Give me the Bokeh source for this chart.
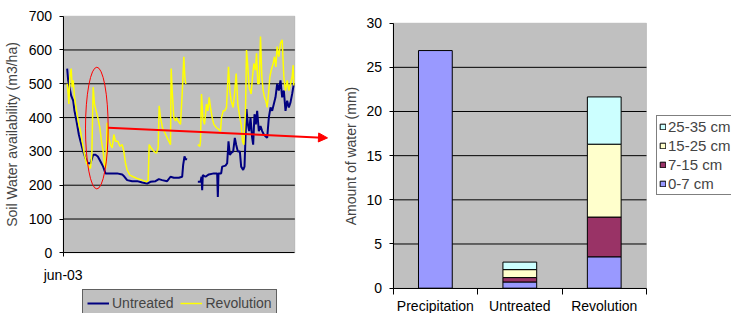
import numpy as np
from bokeh.plotting import figure
from bokeh.models import (Range1d, SingleIntervalTicker, FixedTicker, Legend, LegendItem,
                          Arrow, NormalHead, ColumnDataSource, BoxAnnotation)
from bokeh.layouts import row
from bokeh.embed import file_html
from bokeh.resources import INLINE

nan = np.nan

# ---------------- data: left chart (soil water availability, m3/ha) ----------------
untreated_day = [2.4, 3.0, 3.8, 4.8, 6.0, 6.8, 8.0, 9.4, 10.4, 12.0, 13.4, 14.8, 16.4, 18.0, 19.4,
                 20.8, 22.4, 24.0, 25.4, 28.4, 32.4, 35.4, 36.8, 38.4, 41.4, 44.4, 47.4, 50.4, 52.4,
                 55.4, 57.4, 59.4, 62.4, 64.4, 66.4, 69.4, 71.4, 72.0, 72.8, 73.6, 74.0,
                 77.0,
                 80.8, 82.4, 83.0, 83.4, 83.8, 85.4, 87.4, 90.4, 92.4, 92.8, 93.2, 94.8, 95.4, 97.4,
                 98.4, 99.2, 100.0, 100.8, 102.0, 103.0, 103.8, 104.8, 106.0, 106.8, 108.0, 108.8,
                 109.4, 110.0, 110.8, 111.6, 112.4, 113.4, 114.0, 114.8, 115.6, 116.4, 117.4, 118.4,
                 119.4, 120.4, 121.4, 122.4, 123.4, 124.4, 125.4, 126.4, 127.4, 128.4, 129.4, 130.4,
                 131.4, 132.4, 133.4, 134.4, 135.4, 136.4, 137.4, 138.4]
untreated_val = [545, 510, 490, 465, 450, 420, 390, 350, 330, 300, 280, 265, 265, 290, 290,
                 285, 270, 255, 235, 235, 235, 232, 225, 215, 212, 212, 208, 205, 210,
                 212, 218, 215, 212, 225, 222, 222, 225, 260, 285, 275, 280,
                 nan,
                 210, 210, 225, 185, 230, 225, 232, 235, 235, 165, 235, 235, 255, 258,
                 265, 330, 290, 295, 300, 340, 320, 300, 300, 255, 245, 255,
                 340, 425, 380, 360, 400, 340, 320, 410, 380, 420, 360, 375,
                 360, 350, 345, 340, 400, 430, 420, 440, 460, 500, 480, 510,
                 460, 480, 420, 450, 430, 445, 470, 500]

revolution_day = [2.4, 3.0, 3.4, 4.0, 4.8, 5.4, 6.0, 6.8, 8.0, 9.4, 10.4, 11.4, 12.8, 14.0, 15.4,
                  16.4, 17.2, 18.0, 18.8, 19.8, 20.8, 22.0, 23.0, 24.0, 24.8, 25.6, 26.4, 27.4,
                  28.4, 29.4, 30.4, 31.4, 32.8, 34.0, 35.4, 36.4, 37.4, 38.4, 40.0, 42.0, 44.4,
                  47.4, 50.0, 51.0, 51.6, 52.8, 54.4, 56.0, 57.0, 57.6, 58.4, 59.6, 61.0, 62.4,
                  63.4, 64.4, 64.8, 65.4, 66.4, 67.4, 68.0, 69.0, 70.4, 71.4, 72.4, 73.0, 73.6,
                  77.0,
                  80.8, 82.0, 82.4, 83.0, 83.8, 84.8, 86.0, 86.8, 87.6, 88.4, 89.4, 90.4, 92.0,
                  93.4, 94.4, 95.0, 96.0, 97.0, 98.0, 99.2, 100.0, 100.8, 102.0, 103.0, 103.8,
                  104.8, 106.0, 106.8, 107.6, 108.4, 109.4, 110.0, 110.8, 111.6, 112.8, 113.6,
                  114.4, 115.4, 116.0, 116.8, 117.6, 118.4, 119.2, 120.0, 120.8, 121.6, 122.4,
                  123.2, 124.0, 124.8, 126.0, 126.8, 127.6, 128.4, 129.4, 130.4, 131.4, 132.4,
                  133.4, 134.4, 135.4, 136.4, 137.4, 138.0, 138.4]
revolution_val = [500, 470, 440, 520, 545, 490, 510, 460, 420, 380, 360, 330, 290, 265, 255,
                  250, 290, 490, 440, 420, 400, 370, 330, 300, 260, 250, 385, 340,
                  320, 310, 350, 330, 330, 315, 320, 300, 265, 245, 230, 225, 220,
                  215, 210, 215, 320, 310, 300, 295, 310, 435, 400, 370, 355, 340,
                  330, 320, 545, 480, 400, 390, 400, 390, 380, 470, 580, 520, 500,
                  nan,
                  320, 315, 330, 470, 400, 380, 440, 420, 460, 430, 400, 380, 370,
                  365, 360, 400, 420, 420, 430, 550, 480, 450, 430, 480, 530,
                  440, 400, 380, 330, 320, 420, 600, 550, 490, 470, 520,
                  560, 540, 590, 500, 500, 640, 520, 480, 460, 450, 430,
                  470, 520, 540, 560, 580, 550, 610, 580, 620, 630, 520,
                  480, 510, 480, 500, 520, 555, 495]

left_series = ["Untreated", "Revolution"]
left_ymax = 700
left_ytick_step = 100
left_xtick_label = "jun-03"
plot_days = 139                      # extent of the grey plot area (days)
left_view_x = (-37.6, 160.4)         # visible window: room for axis texts, arrow, legend
left_view_y = (-179.4, 746.3)

# annotation on the left chart: circled event and arrow pointing to the bar chart
ellipse_center = (20.2, 369)
ellipse_size = (13.6, 360)
arrow_start = (27.0, 370)
arrow_end = (158.6, 340)

# ---------------- data: right chart (amount of water, mm) ----------------
categories = ["Precipitation", "Untreated", "Revolution"]
layers = ["0-7 cm", "7-15 cm", "15-25 cm", "25-35 cm"]
layer_0_7 = [26.9, 0.7, 3.55]
layer_7_15 = [nan, 0.5, 4.5]
layer_15_25 = [nan, 0.9, 8.25]
layer_25_35 = [nan, 0.85, 5.35]
layer_colors = ["#9999FF", "#993366", "#FFFFCC", "#CCFFFF"]
right_ymax = 30
right_ytick_step = 5
right_view_x = (-0.742, 4.007)
right_view_y = (-2.868, 32.566)

FONT = "Liberation Sans"
FS = "14px"
GREY = "#C0C0C0"


def style_axis(ax, tick_out):
    ax.major_label_text_font = FONT
    ax.major_label_text_font_size = FS
    ax.major_label_text_color = "black"
    ax.axis_label_text_font = FONT
    ax.axis_label_text_font_size = FS
    ax.axis_label_text_font_style = "normal"
    ax.axis_line_color = "black"
    ax.major_tick_line_color = "black"
    ax.major_tick_in = 0
    ax.major_tick_out = tick_out


def make_fig(width, xr, yr):
    f = figure(width=width, height=313, output_backend="svg", toolbar_location=None,
               x_range=Range1d(*xr), y_range=Range1d(*yr),
               min_border_left=0, min_border_right=0, min_border_top=0, min_border_bottom=0,
               frame_align=False)
    f.background_fill_color = "white"
    f.border_fill_color = "white"
    f.outline_line_color = None
    f.xgrid.grid_line_color = None
    f.ygrid.grid_line_color = None
    f.xaxis.fixed_location = 0
    f.yaxis.fixed_location = 0
    return f


# ================= left figure =================
left = make_fig(330, left_view_x, left_view_y)
left.add_layout(BoxAnnotation(left=0, right=plot_days, bottom=0, top=left_ymax,
                              fill_color=GREY, fill_alpha=1, line_color="#808080",
                              line_width=1, level="underlay"))
grid_y = list(range(left_ytick_step, left_ymax, left_ytick_step))
left.segment(x0=0, x1=plot_days, y0=grid_y, y1=grid_y, line_color="black", line_width=1)

r_un = left.line(np.array(untreated_day), np.array(untreated_val, dtype=float),
                 line_color="#000080", line_width=2)
r_rev = left.line(np.array(revolution_day), np.array(revolution_val, dtype=float),
                  line_color="#FFFF00", line_width=1.5)

left.ellipse(x=[ellipse_center[0]], y=[ellipse_center[1]], width=ellipse_size[0],
             height=ellipse_size[1], fill_color=None, line_color="#FF0000", line_width=1)

left.add_layout(Arrow(end=NormalHead(size=9, fill_color="#FF0000", line_color="#FF0000"),
                      x_start=arrow_start[0], y_start=arrow_start[1],
                      x_end=arrow_end[0], y_end=arrow_end[1],
                      line_color="#FF0000", line_width=2))

left.yaxis.ticker = SingleIntervalTicker(interval=left_ytick_step, num_minor_ticks=0)
left.yaxis.bounds = (0, left_ymax)
left.xaxis.ticker = FixedTicker(ticks=[0])
left.xaxis.major_label_overrides = {0: left_xtick_label}
left.xaxis.bounds = (0, plot_days)
left.yaxis.axis_label = "Soil Water availability (m3/ha)"
style_axis(left.xaxis, 4)
style_axis(left.yaxis, 4)
left.xaxis.minor_tick_line_color = None
left.yaxis.minor_tick_line_color = None
left.yaxis.major_label_standoff = 7
left.yaxis.axis_label_standoff = 6
left.xaxis.major_label_standoff = 10

leg_left = Legend(items=[LegendItem(label=left_series[0], renderers=[r_un]),
                         LegendItem(label=left_series[1], renderers=[r_rev])],
                  orientation="horizontal", location=(82, -4),
                  border_line_color="black", background_fill_color=GREY, background_fill_alpha=1,
                  label_text_font=FONT, label_text_font_size=FS,
                  glyph_width=22, glyph_height=16, label_height=18, label_standoff=3,
                  spacing=7, padding=4, margin=0)
left.add_layout(leg_left)

# ================= right figure =================
right = make_fig(401, right_view_x, right_view_y)
right.add_layout(BoxAnnotation(left=0, right=len(categories), bottom=0, top=right_ymax,
                               fill_color=GREY, fill_alpha=1, line_color="#808080",
                               line_width=1, level="underlay"))
grid_y2 = list(range(right_ytick_step, right_ymax, right_ytick_step))
right.segment(x0=0, x1=len(categories), y0=grid_y2, y1=grid_y2, line_color="black", line_width=1)

centers = [i + 0.5 for i in range(len(categories))]
src = ColumnDataSource(dict(x=centers, **{layers[0]: np.array(layer_0_7),
                                          layers[1]: np.array(layer_7_15),
                                          layers[2]: np.array(layer_15_25),
                                          layers[3]: np.array(layer_25_35)}))
bars = right.vbar_stack(layers, x="x", width=0.4, source=src, fill_color=layer_colors,
                        line_color="black", line_width=1)

right.yaxis.ticker = SingleIntervalTicker(interval=right_ytick_step, num_minor_ticks=0)
right.yaxis.bounds = (0, right_ymax)
right.xaxis.ticker = FixedTicker(ticks=centers, minor_ticks=list(range(len(categories) + 1)))
right.xaxis.major_label_overrides = {c: name for c, name in zip(centers, categories)}
right.xaxis.bounds = (0, len(categories))
right.yaxis.axis_label = "Amount of water (mm)"
style_axis(right.xaxis, 0)
style_axis(right.yaxis, 4)
right.yaxis.minor_tick_line_color = None
right.yaxis.major_label_standoff = 7
right.yaxis.axis_label_standoff = 5
right.xaxis.minor_tick_in = 0
right.xaxis.minor_tick_out = 6
right.xaxis.minor_tick_line_color = "black"
right.xaxis.major_label_standoff = 4

leg_right = Legend(items=[LegendItem(label=layers[i], renderers=[bars[i]])
                          for i in reversed(range(len(layers)))],
                   location=(326, 118),
                   border_line_color="black", background_fill_color="white", background_fill_alpha=1,
                   label_text_font=FONT, label_text_font_size="15px",
                   glyph_width=7, glyph_height=7, label_height=17, label_standoff=2,
                   spacing=2, padding=2, margin=0)
right.add_layout(leg_right)

layout = row(left, right)
open("out.html", "w").write(file_html(layout, INLINE))
